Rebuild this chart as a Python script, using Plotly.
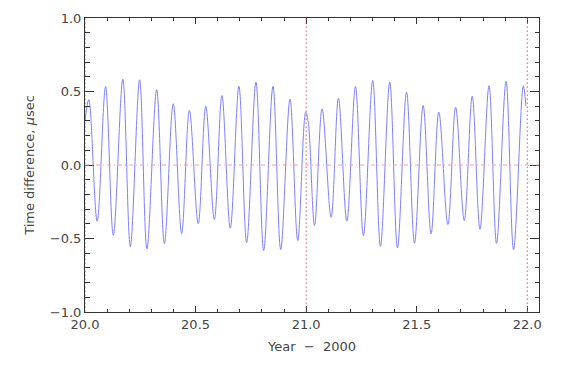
import plotly.graph_objects as go

# turning points of the clock difference curve (year - 2000, microseconds)
years = [20.000, 20.017, 20.055, 20.093, 20.128, 20.171, 20.205, 20.247, 20.280,
         20.324, 20.359, 20.399, 20.437, 20.472, 20.512, 20.546, 20.585, 20.619,
         20.657, 20.696, 20.731, 20.773, 20.808, 20.850, 20.885, 20.927, 20.962,
         20.998, 21.009, 21.038, 21.072, 21.113, 21.146, 21.184, 21.223, 21.259,
         21.301, 21.336, 21.378, 21.413, 21.454, 21.490, 21.529, 21.565, 21.600,
         21.641, 21.676, 21.715, 21.751, 21.786, 21.827, 21.861, 21.904, 21.938,
         21.982, 21.994]
time_diff = [0.30, 0.444, -0.383, 0.534, -0.478, 0.584, -0.555, 0.580, -0.571,
             0.512, -0.534, 0.417, -0.466, 0.371, -0.400, 0.400, -0.371, 0.473,
             -0.430, 0.536, -0.527, 0.564, -0.582, 0.536, -0.575, 0.448, -0.514,
             0.360, 0.300, -0.412, 0.382, -0.355, 0.455, -0.382, 0.534, -0.480,
             0.575, -0.553, 0.564, -0.564, 0.496, -0.532, 0.405, -0.469, 0.360,
             -0.405, 0.394, -0.378, 0.469, -0.437, 0.539, -0.532, 0.568, -0.577,
             0.539, 0.40]

year_marks = [20.0, 21.0, 22.0]

fig = go.Figure()
fig.add_trace(go.Scatter(x=years, y=time_diff, mode='lines',
                         line=dict(color='#7f7fff', width=1, shape='spline', smoothing=1.0),
                         showlegend=False, hoverinfo='skip'))

for yr in year_marks:
    fig.add_vline(x=yr, line=dict(color='#ff4d4d', width=1, dash='1.5px,2.5px'))
fig.add_hline(y=0, line=dict(color='#ff9a9a', width=1, dash='4px,3px,1px,3px'))

axis_common = dict(showgrid=False, zeroline=False, showline=True, linecolor='#333333',
                   linewidth=1, mirror='allticks', ticks='inside', tickcolor='#333333',
                   tickwidth=1, tickformat='.1f', automargin=False,
                   tickfont=dict(family='DejaVu Sans', size=13, color='#444444'))

fig.update_xaxes(range=[20.0, 22.053], dtick=0.5, tick0=20.0, ticklen=6,
                 minor=dict(dtick=0.1, ticks='inside', ticklen=3, tickcolor='#333333'),
                 title=dict(text='Year\u00a0\u00a0\u2212\u00a0\u00a02000', standoff=11,
                            font=dict(family='DejaVu Sans', size=13, color='#444444')),
                 **axis_common)
fig.update_yaxes(range=[-1.0, 1.0], dtick=0.5, tick0=0.0, ticklen=9,
                 minor=dict(dtick=0.1, ticks='inside', ticklen=4.5, tickcolor='#333333'),
                 title=dict(text='Time difference, <i>\u03bc</i>sec', standoff=12,
                            font=dict(family='DejaVu Sans', size=13, color='#444444')),
                 **axis_common)

# page body adds an 8px margin, so the figure is sized to sit inside the window
fig.update_layout(width=545, height=350, margin=dict(l=77, r=14, t=10, b=46),
                  paper_bgcolor='white', plot_bgcolor='white')

fig.write_html("out.html")
